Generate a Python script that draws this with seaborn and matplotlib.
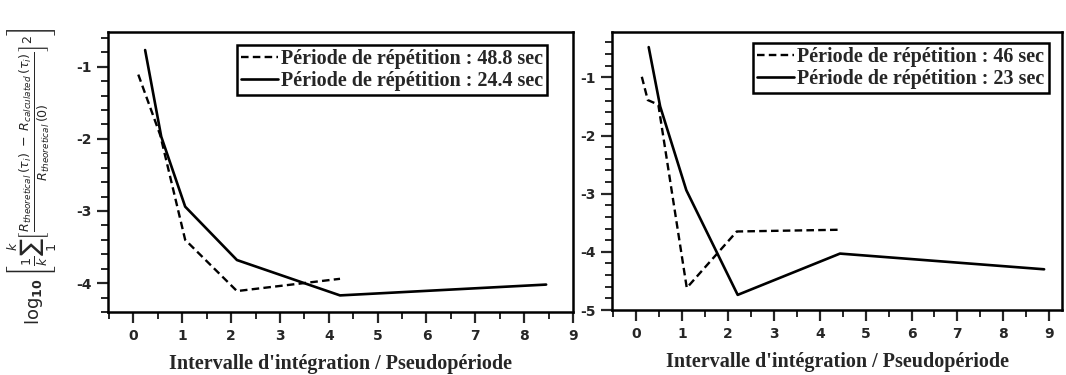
import matplotlib
matplotlib.use("Agg")
import matplotlib.pyplot as plt
import seaborn as sns
import pandas as pd
from matplotlib.ticker import MultipleLocator

# ---- data ----
left_dash_x = [0.10, 0.55, 1.06, 2.12, 4.23]
left_dash_y = [-1.11, -1.95, -3.40, -4.11, -3.94]
left_solid_x = [0.24, 0.57, 1.06, 2.12, 4.23, 8.45]
left_solid_y = [-0.77, -1.97, -2.94, -3.68, -4.17, -4.02]
left_labels = ["Période de répétition : 48.8 sec", "Période de répétition : 24.4 sec"]

right_dash_x = [0.12, 0.25, 0.48, 1.10, 2.19, 4.44]
right_dash_y = [-0.99, -1.39, -1.47, -4.62, -3.65, -3.62]
right_solid_x = [0.27, 0.52, 1.09, 2.21, 4.44, 8.89]
right_solid_y = [-0.48, -1.50, -2.94, -4.74, -4.03, -4.30]
right_labels = ["Période de répétition : 46 sec", "Période de répétition : 23 sec"]

x_ticks = [0, 1, 2, 3, 4, 5, 6, 7, 8, 9]
left_yticks = [-1, -2, -3, -4]
right_yticks = [-1, -2, -3, -4, -5]
xlabel = "Intervalle d'intégration / Pseudopériode"
ylabel = (r"$\mathbf{\log_{10}}\left[\frac{1}{k}\sum_{1}^{k}\left[\frac{R_{theoretical}\,(\tau_i)\;-\;"
          r"R_{calculated}\,(\tau_i)}{R_{theoretical}\,(0)}\right]^2\right]$")

sns.set_theme(style="ticks")
plt.rcParams["font.family"] = ["DejaVu Sans"]
plt.rcParams["mathtext.fontset"] = "dejavusans"

fig = plt.figure(figsize=(10.66, 3.75), dpi=100)
axL = fig.add_axes([108/1066, 1-312/375, (573-108)/1066, (312-32)/375])
axR = fig.add_axes([612/1066, 1-310/375, (1062-612)/1066, (310-32)/375])

serif = ["Liberation Serif", "DejaVu Serif"]

def draw(ax, dx, dy, sx, sy, labels, xlim, ylim, yticks, legend_bbox):
    dfd = pd.DataFrame({"x": dx, "y": dy})
    dfs = pd.DataFrame({"x": sx, "y": sy})
    sns.lineplot(data=dfd, x="x", y="y", ax=ax, color="black", lw=1.7,
                 linestyle=(0, (3.2, 1.8)), sort=False, estimator=None, label=labels[0])
    sns.lineplot(data=dfs, x="x", y="y", ax=ax, color="black", lw=1.9,
                 sort=False, estimator=None, label=labels[1])
    ax.set_xlim(*xlim)
    ax.set_ylim(*ylim)
    ax.set_xticks(x_ticks)
    ax.set_xticklabels([str(t) for t in x_ticks])
    ax.set_yticks(yticks)
    ax.set_yticklabels(["-%d" % abs(t) for t in yticks])
    ax.xaxis.set_minor_locator(MultipleLocator(0.5))
    ax.yaxis.set_minor_locator(MultipleLocator(0.2))
    ax.tick_params(which="major", direction="out", length=8, width=1.6,
                   labelsize=10, pad=4)
    ax.tick_params(which="minor", direction="out", length=5, width=1.4)
    for lab in ax.get_xticklabels() + ax.get_yticklabels():
        lab.set_fontweight("bold")
    for sp in ax.spines.values():
        sp.set_linewidth(1.8)
        sp.set_color("black")
        sp.set_visible(True)
    ax.set_xlabel(xlabel, family=serif, fontweight="bold", fontsize=14.5, labelpad=8)
    ax.set_ylabel("")
    leg = ax.legend(loc="upper left", bbox_to_anchor=legend_bbox, frameon=True,
                    fancybox=False, edgecolor="black", framealpha=1,
                    prop={"family": serif, "weight": "bold", "size": 14.5},
                    handlelength=1.85, handletextpad=0.15, borderpad=0.2,
                    labelspacing=0.12, borderaxespad=0)
    leg.get_frame().set_linewidth(1.8)

draw(axL, left_dash_x, left_dash_y, left_solid_x, left_solid_y, left_labels,
     (-0.52, 9.0), (-4.4, -0.52), left_yticks, ((237-108)/465, 1-(45-32)/280))
draw(axR, right_dash_x, right_dash_y, right_solid_x, right_solid_y, right_labels,
     (-0.53, 9.28), (-5.0, -0.22), right_yticks, ((753-612)/450, 1-(43-32)/278))

fig.text(0.031, 0.53, ylabel, rotation=90, ha="center", va="center", fontsize=13)

fig.savefig("out.png", dpi=100)
